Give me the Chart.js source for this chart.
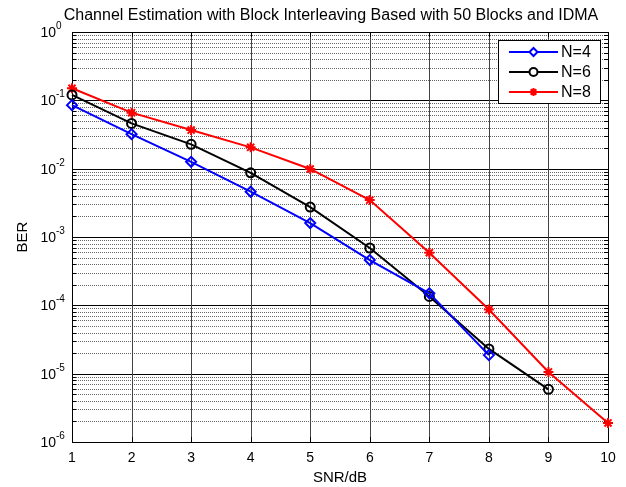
<!DOCTYPE html>
<html>
<head>
<meta charset="utf-8">
<script src="https://cdn.jsdelivr.net/npm/chart.js@4/dist/chart.umd.min.js"></script>
<style>
  html, body { margin: 0; padding: 0; background: #ffffff; }
  canvas { display: block; }
</style>
</head>
<body>
<canvas id="ber" width="626" height="487"></canvas>
<script>
// SNR points (dB) and measured bit error rates for each interleaver size
const snr = [1, 2, 3, 4, 5, 6, 7, 8, 9, 10];
const berN4 = [0.085, 0.032, 0.0126, 0.0046, 0.0016, 0.00046, 0.00015, 0.0000187];
const berN6 = [0.12, 0.046, 0.0227, 0.0087, 0.00274, 0.00069, 0.000135, 0.000023, 0.0000059];
const berN8 = [0.15, 0.066, 0.0367, 0.0205, 0.0099, 0.00347, 0.00059, 0.000087, 0.0000106, 0.0000019];

const seriesNames = ['N=4', 'N=6', 'N=8'];
const xTicks = [1, 2, 3, 4, 5, 6, 7, 8, 9, 10];
const yDecades = [0, -1, -2, -3, -4, -5, -6];

const titleText = 'Channel Estimation with Block Interleaving Based with 50 Blocks and IDMA';
const xTitle = 'SNR/dB';
const yTitle = 'BER';

const FONT = '"Liberation Sans", Arial, Helvetica, sans-serif';

function pts(values) {
  return values.map((v, i) => ({ x: snr[i], y: v }));
}

// Axes frame, grid, ticks, labels, title and legend in MATLAB style
const matlabAxes = {
  id: 'matlabAxes',
  beforeDraw(chart) {
    const ctx = chart.ctx;
    ctx.save();
    ctx.fillStyle = '#ffffff';
    ctx.fillRect(0, 0, chart.width, chart.height);
    ctx.restore();
  },
  beforeDatasetsDraw(chart) {
    const ctx = chart.ctx;
    const a = chart.chartArea;
    const xs = chart.scales.x, ys = chart.scales.y;
    ctx.save();
    // minor horizontal grid (dotted)
    ctx.lineWidth = 1;
    ctx.strokeStyle = '#666666';
    ctx.setLineDash([1, 1]);
    for (const e of yDecades) {
      if (e === 0) continue;
      for (let k = 2; k <= 9; k++) {
        const y = Math.round(ys.getPixelForValue(k * Math.pow(10, e))) + 0.5;
        ctx.beginPath();
        ctx.moveTo(a.left, y);
        ctx.lineTo(a.right, y);
        ctx.stroke();
      }
    }
    ctx.setLineDash([]);
    // major horizontal grid
    ctx.strokeStyle = '#000000';
    for (const e of yDecades) {
      const y = Math.round(ys.getPixelForValue(Math.pow(10, e))) + 0.5;
      ctx.beginPath();
      ctx.moveTo(a.left, y);
      ctx.lineTo(a.right, y);
      ctx.stroke();
    }
    // vertical grid
    ctx.strokeStyle = '#444444';
    for (const t of xTicks) {
      const x = Math.round(xs.getPixelForValue(t)) + 0.5;
      ctx.beginPath();
      ctx.moveTo(x, a.top);
      ctx.lineTo(x, a.bottom);
      ctx.stroke();
    }
    // tick marks on all four sides
    ctx.strokeStyle = '#000000';
    for (const e of yDecades) {
      for (let k = 1; k <= 9; k++) {
        if (e === 0 && k > 1) continue;
        const y = Math.round(ys.getPixelForValue(k * Math.pow(10, e))) + 0.5;
        const len = k === 1 ? 5 : 4;
        ctx.beginPath();
        ctx.moveTo(a.left, y); ctx.lineTo(a.left + len, y);
        ctx.moveTo(a.right, y); ctx.lineTo(a.right - len, y);
        ctx.stroke();
      }
    }
    for (const t of xTicks) {
      const x = Math.round(xs.getPixelForValue(t)) + 0.5;
      ctx.beginPath();
      ctx.moveTo(x, a.bottom); ctx.lineTo(x, a.bottom - 5);
      ctx.moveTo(x, a.top); ctx.lineTo(x, a.top + 5);
      ctx.stroke();
    }
    // axes box
    ctx.lineWidth = 1;
    ctx.strokeRect(Math.round(a.left) + 0.5, Math.round(a.top) + 0.5,
                   Math.round(a.right - a.left), Math.round(a.bottom - a.top));
    ctx.restore();
  },
  afterDraw(chart) {
    const ctx = chart.ctx;
    const a = chart.chartArea;
    const xs = chart.scales.x, ys = chart.scales.y;
    ctx.save();
    ctx.fillStyle = '#000000';

    // x tick labels
    ctx.font = '14px ' + FONT;
    ctx.textAlign = 'center';
    ctx.textBaseline = 'alphabetic';
    for (const t of xTicks) {
      ctx.fillText(String(t), xs.getPixelForValue(t), a.bottom + 20);
    }

    // y tick labels: 10 with a raised exponent
    for (const e of yDecades) {
      const y = ys.getPixelForValue(Math.pow(10, e));
      ctx.font = '14px ' + FONT;
      ctx.textAlign = 'right';
      ctx.textBaseline = 'alphabetic';
      ctx.fillText('10', a.left - 16, y + 5);
      ctx.font = '10px ' + FONT;
      ctx.textAlign = 'left';
      ctx.fillText(e === 0 ? '0' : '-' + Math.abs(e), a.left - 16, y - 3);
    }

    // axis titles
    ctx.font = '15px ' + FONT;
    ctx.textAlign = 'center';
    ctx.textBaseline = 'alphabetic';
    ctx.fillText(xTitle, (a.left + a.right) / 2, a.bottom + 40);
    ctx.save();
    ctx.translate(27, (a.top + a.bottom) / 2);
    ctx.rotate(-Math.PI / 2);
    ctx.fillText(yTitle, 0, 0);
    ctx.restore();

    // title
    ctx.font = '16px ' + FONT;
    ctx.fillText(titleText, 331, 20);

    // legend
    const bx = 498.5, by = 40.5, bw = 102, bh = 63;
    ctx.fillStyle = '#ffffff';
    ctx.fillRect(bx, by, bw, bh);
    ctx.strokeStyle = '#000000';
    ctx.lineWidth = 1;
    ctx.strokeRect(bx, by, bw, bh);
    chart.data.datasets.forEach((ds, i) => {
      const ly = 52 + i * 20;
      ctx.strokeStyle = ds.borderColor;
      ctx.lineWidth = ds.borderWidth;
      ctx.beginPath();
      ctx.moveTo(509, ly);
      ctx.lineTo(558, ly);
      ctx.stroke();
      ctx.fillStyle = '#ffffff';
      Chart.helpers.drawPoint(ctx, {
        pointStyle: ds.pointStyle,
        radius: 4,
        borderWidth: ds.pointBorderWidth
      }, 533.5, ly);
      ctx.fillStyle = '#000000';
      ctx.font = '16px ' + FONT;
      ctx.textAlign = 'left';
      ctx.textBaseline = 'middle';
      ctx.fillText(ds.label, 561, ly + 1);
    });
    ctx.restore();
  }
};

const styles = [
  { color: '#0000ff', point: 'rectRot', r: 5 },
  { color: '#000000', point: 'circle', r: 4.5 },
  { color: '#ff0000', point: 'star', r: 5 }
];
const seriesData = [berN4, berN6, berN8];

const datasets = seriesData.map((vals, i) => ({
  label: seriesNames[i],
  data: pts(vals),
  borderColor: styles[i].color,
  backgroundColor: 'rgba(0,0,0,0)',
  pointBorderColor: styles[i].color,
  pointBackgroundColor: 'rgba(0,0,0,0)',
  borderWidth: 2,
  pointBorderWidth: 2,
  pointStyle: styles[i].point,
  pointRadius: styles[i].r,
  tension: 0,
  clip: false
}));

new Chart(document.getElementById('ber'), {
  type: 'line',
  data: { datasets },
  plugins: [matlabAxes],
  options: {
    responsive: false,
    animation: false,
    devicePixelRatio: 1,
    layout: { padding: { left: 72, top: 32, right: 18, bottom: 45 } },
    plugins: {
      legend: { display: false },
      title: { display: false },
      tooltip: { enabled: false }
    },
    scales: {
      x: { type: 'linear', min: 1, max: 10, display: false },
      y: { type: 'logarithmic', min: 1e-6, max: 1, display: false }
    }
  }
});
</script>
</body>
</html>
